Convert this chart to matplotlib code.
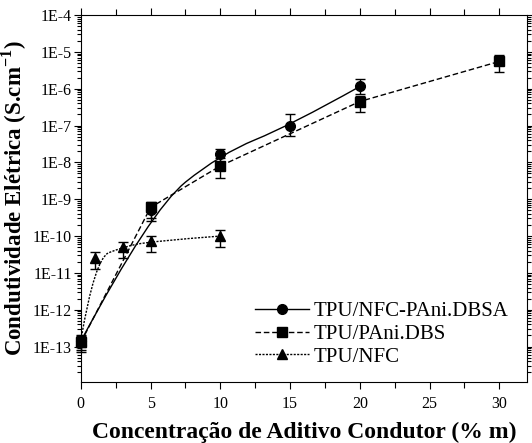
import numpy as np
import matplotlib
matplotlib.use("Agg")
import matplotlib.pyplot as plt
from matplotlib.path import Path
from matplotlib.patches import PathPatch
from matplotlib.lines import Line2D
from matplotlib.ticker import LogLocator, FixedLocator, MultipleLocator, NullFormatter

plt.rcParams['font.family'] = ['Liberation Serif', 'DejaVu Serif']
plt.rcParams['mathtext.fontset'] = 'custom'
plt.rcParams['mathtext.rm'] = 'Liberation Serif'
plt.rcParams['mathtext.bf'] = 'Liberation Serif:bold'

# Dados
x_dbsa = [0, 5, 10, 15, 20]
y_dbsa = [1.4e-13, 5.0e-10, 1.7e-8, 1.0e-7, 1.15e-6]
lo_dbsa = [0.8e-13, 3.0e-10, 1.0e-8, 5.2e-8, 7.0e-7]
hi_dbsa = [1.9e-13, 8.0e-10, 2.3e-8, 2.1e-7, 1.8e-6]

x_dbs = [0, 5, 10, 20, 30]
y_dbs = [1.3e-13, 6.0e-10, 8.0e-9, 4.5e-7, 5.5e-6]
lo_dbs = [0.7e-13, 2.5e-10, 3.8e-9, 2.4e-7, 2.8e-6]
hi_dbs = [1.8e-13, 8.5e-10, 1.3e-8, 6.5e-7, 8.0e-6]

x_nfc = [0, 1, 3, 5, 10]
y_nfc = [1.5e-13, 2.5e-11, 5.0e-11, 7.2e-11, 1.0e-10]
lo_nfc = [1.0e-13, 1.3e-11, 2.5e-11, 3.6e-11, 5.2e-11]
hi_nfc = [2.0e-13, 3.6e-11, 6.8e-11, 1.0e-10, 1.45e-10]

labels = ["TPU/NFC-PAni.DBSA", "TPU/PAni.DBS", "TPU/NFC"]
ytick_vals = [1e-13, 1e-12, 1e-11, 1e-10, 1e-9, 1e-8, 1e-7, 1e-6, 1e-5, 1e-4]
ytick_labels = ["1E-13", "1E-12", "1E-11", "1E-10", "1E-9", "1E-8", "1E-7", "1E-6", "1E-5", "1E-4"]


def bspline_path(x, y):
    # B-spline quadrática (pontos como vértices de controle), em escala log
    lx = np.array(x, float)
    ly = np.log10(y)
    verts = [(lx[0], ly[0])]
    codes = [Path.MOVETO]
    n = len(lx)
    for i in range(1, n - 1):
        if i < n - 2:
            ex, ey = (lx[i] + lx[i + 1]) / 2, (ly[i] + ly[i + 1]) / 2
        else:
            ex, ey = lx[i + 1], ly[i + 1]
        verts += [(lx[i], ly[i]), (ex, ey)]
        codes += [Path.CURVE3, Path.CURVE3]
    verts = [(vx, 10 ** vy) for vx, vy in verts]
    return Path(verts, codes)


fig = plt.figure(figsize=(5.32, 4.43), dpi=100)
ax = fig.add_axes([0.152, 0.138, 0.839, 0.828])
ax.set_yscale("log")

styles = [
    (x_dbsa, y_dbsa, lo_dbsa, hi_dbsa, "o", "-"),
    (x_dbs, y_dbs, lo_dbs, hi_dbs, "s", (0, (4, 2))),
    (x_nfc, y_nfc, lo_nfc, hi_nfc, "^", (0, (1.5, 1))),
]

handles = []
for (x, y, lo, hi, mk, ls), lab in zip(styles, labels):
    y = np.array(y)
    yerr = [y - np.array(lo), np.array(hi) - y]
    ax.errorbar(x, y, yerr=yerr, fmt=mk, color="black", ms=7, capsize=3.5,
                elinewidth=1, capthick=1, clip_on=False, zorder=3)
    if mk == "s":
        ax.plot(x, y, linestyle=ls, color="black", lw=1)
    else:
        ax.add_patch(PathPatch(bspline_path(x, y), facecolor="none",
                               edgecolor="black", lw=1, linestyle=ls))
    handles.append(Line2D([], [], color="black", marker=mk, ms=7, lw=1, linestyle=ls))

ax.set_xlim(0, 32)
ax.set_ylim(1.1e-14, 1e-4)

ax.xaxis.set_major_locator(MultipleLocator(5))
ax.xaxis.set_minor_locator(MultipleLocator(2.5))
ax.yaxis.set_major_locator(FixedLocator(ytick_vals))
ax.set_yticklabels(ytick_labels)
ax.yaxis.set_minor_locator(LogLocator(base=10, subs=np.arange(2, 10), numticks=20))
ax.yaxis.set_minor_formatter(NullFormatter())

ax.tick_params(axis="both", which="both", direction="out", top=True, right=True,
               labelsize=11.5, width=0.8, pad=1.5)
ax.tick_params(axis="both", which="major", length=5)
ax.tick_params(axis="both", which="minor", length=3)
ax.tick_params(axis="x", which="minor", length=4)
ax.tick_params(axis="x", which="major", pad=5)

ax.set_xlabel("Concentração de Aditivo Condutor (% m)", fontsize=17, fontweight="bold",
              labelpad=7)
ax.set_ylabel("Condutividade Elétrica (S.cm$^{\\mathbf{-1}}$)", fontsize=16.5,
              fontweight="bold", labelpad=3)

ax.legend(handles, labels, loc="lower right", frameon=False, fontsize=15,
          handlelength=2.6, handletextpad=0.2, labelspacing=0.15,
          bbox_to_anchor=(1.0, -0.01))

fig.savefig("out.png", dpi=100)
